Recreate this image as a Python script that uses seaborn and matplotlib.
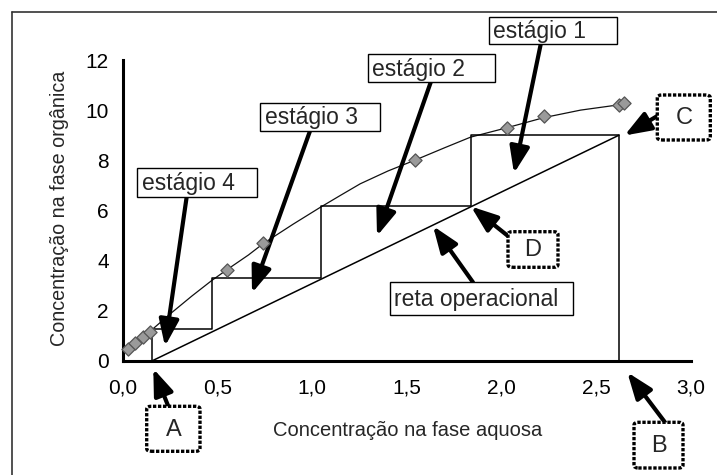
import matplotlib
matplotlib.use('Agg')
import matplotlib.pyplot as plt
import seaborn as sns
from matplotlib.patches import Rectangle, FancyBboxPatch
from matplotlib.lines import Line2D

# dados lidos do grafico
# pontos experimentais (isoterma de equilibrio)
pts_x = [0.03, 0.065, 0.109, 0.144, 0.55, 0.743, 1.545, 2.03, 2.223, 2.62, 2.646]
pts_y = [0.46, 0.69, 0.96, 1.16, 3.62, 4.68, 8.01, 9.29, 9.76, 10.2, 10.27]

# curva de tendencia
curva_x = [0.02, 0.03, 0.065, 0.109, 0.144, 0.259, 0.365, 0.47, 0.55, 0.664, 0.743,
           0.9, 1.043, 1.15, 1.254, 1.4, 1.545, 1.7, 1.836, 2.03, 2.223, 2.417, 2.628, 2.65]
curva_y = [0.38, 0.47, 0.68, 0.95, 1.17, 1.92, 2.58, 3.2, 3.63, 4.22, 4.68,
           5.45, 6.12, 6.6, 7.06, 7.57, 8.01, 8.5, 8.92, 9.3, 9.7, 10.0, 10.22, 10.25]

# reta operacional
reta_x = [0.157, 2.62]
reta_y = [0.0, 9.0]

# degraus (estagios)
degrau_x = [2.62, 2.62, 1.837, 1.837, 1.047, 1.047, 0.472, 0.472, 0.157, 0.157]
degrau_y = [0.0, 9.0, 9.0, 6.17, 6.17, 3.3, 3.3, 1.25, 1.25, 0.0]

xticks = [0.0, 0.5, 1.0, 1.5, 2.0, 2.5, 3.0]
xlabels = ['0,0', '0,5', '1,0', '1,5', '2,0', '2,5', '3,0']
yticks = [0, 2, 4, 6, 8, 10, 12]
ylabels = ['0', '2', '4', '6', '8', '10', '12']

sns.set_style('white')
plt.rcParams['font.family'] = ['Liberation Sans', 'DejaVu Sans']

W, H = 717, 475
fig = plt.figure(figsize=(W / 100, H / 100), dpi=100)
ax = fig.add_axes([122.7 / W, 1 - 360.7 / H, (691 - 122.7) / W, (360.7 - 60) / H])

sns.lineplot(x=curva_x, y=curva_y, sort=False, estimator=None, color='#111111',
             linewidth=0.9, ax=ax)
sns.lineplot(x=reta_x, y=reta_y, sort=False, estimator=None, color='black',
             linewidth=1.1, ax=ax)
sns.lineplot(x=degrau_x, y=degrau_y, sort=False, estimator=None, color='black',
             linewidth=1.1, ax=ax)
sns.scatterplot(x=pts_x, y=pts_y, marker='D', s=45, color='#9a9a9a',
                edgecolor='#555555', linewidth=0.9, ax=ax, zorder=5, clip_on=False)

ax.set_xlim(0, 3)
ax.set_ylim(0, 12)
ax.set_xticks(xticks)
ax.set_xticklabels(xlabels)
ax.set_yticks(yticks)
ax.set_yticklabels(ylabels)
ax.tick_params(axis='both', direction='out', length=4, width=2.2, color='black',
               labelsize=15, labelcolor='black')
ax.tick_params(axis='x', pad=9)
ax.tick_params(axis='y', pad=6)
for s in ['top', 'right']:
    ax.spines[s].set_visible(False)
for s in ['left', 'bottom']:
    ax.spines[s].set_linewidth(2.2)
    ax.spines[s].set_color('black')
ax.patch.set_alpha(0)

# rotulos dos eixos
fig.text(408 / W, 1 - 430 / H, 'Concentração na fase aquosa', ha='center', va='center',
         fontsize=14.5)
fig.text(60 / W, 1 - 208 / H, 'Concentração na fase orgânica', ha='center', va='center',
         rotation=90, fontsize=14.2)

# moldura externa
fig.add_artist(Line2D([12 / W, 12 / W], [0, 1 - 12 / H], color='#333333', lw=1.2))
fig.add_artist(Line2D([12 / W, 1], [1 - 12 / H, 1 - 12 / H], color='#333333', lw=1.2))


def fp(x, y):
    return (x / W, 1 - y / H)


def caixa(x0, y0, x1, y1, texto, tx=None, pontilhada=False):
    if pontilhada:
        r = FancyBboxPatch(fp(x0, y1), (x1 - x0) / W, (y1 - y0) / H,
                           boxstyle='round,pad=0,rounding_size=0.006',
                           transform=fig.transFigure, facecolor='white',
                           edgecolor='black', linewidth=2.4, linestyle=(0, (1, 0.5)),
                           zorder=3)
        fig.add_artist(r)
        fig.text((x0 + x1) / 2 / W, 1 - ((y0 + y1) / 2 + 1) / H, texto, ha='center',
                 va='center', fontsize=17, zorder=4)
    else:
        r = Rectangle(fp(x0, y1), (x1 - x0) / W, (y1 - y0) / H,
                      transform=fig.transFigure, facecolor='white',
                      edgecolor='black', linewidth=1.0, zorder=3)
        fig.add_artist(r)
        fig.text(tx / W, 1 - ((y0 + y1) / 2 + 1) / H, texto, ha='left',
                 va='center', fontsize=16.5, zorder=4)


def seta(x0, y0, x1, y1):
    ax.annotate('', xy=fp(x1, y1), xycoords='figure fraction',
                xytext=fp(x0, y0), textcoords='figure fraction',
                arrowprops=dict(arrowstyle='-|>,head_length=0.8,head_width=0.3',
                                mutation_scale=20, lw=3, color='black',
                                shrinkA=0, shrinkB=0),
                annotation_clip=False)


caixa(488.7, 17.3, 617, 44.3, 'estágio 1', tx=493)
caixa(368, 54.3, 494.7, 82.3, 'estágio 2', tx=372)
caixa(260, 102.7, 380, 131, 'estágio 3', tx=265)
caixa(136.7, 168.3, 256.7, 196.7, 'estágio 4', tx=141.7)
caixa(389.7, 282.3, 573, 314.7, 'reta operacional', tx=394)
caixa(508, 231.7, 558, 267.3, 'D', pontilhada=True)
caixa(657.3, 95, 710.3, 140, 'C', pontilhada=True)
caixa(146.7, 406.3, 200, 451.3, 'A', pontilhada=True)
caixa(634, 422.3, 683, 468, 'B', pontilhada=True)

seta(540.7, 44.3, 514, 173.3)
seta(430.7, 82.3, 377, 236)
seta(310, 131, 252, 293)
seta(186.7, 196.7, 165, 346.3)
seta(473, 282.3, 433, 226)
seta(508, 236, 471, 206.5)
seta(657.3, 116, 624.5, 135.5)
seta(168.3, 406.3, 153.3, 368.7)
seta(665, 422.3, 627.3, 372.3)

fig.savefig('out.png', dpi=100, facecolor='white')
